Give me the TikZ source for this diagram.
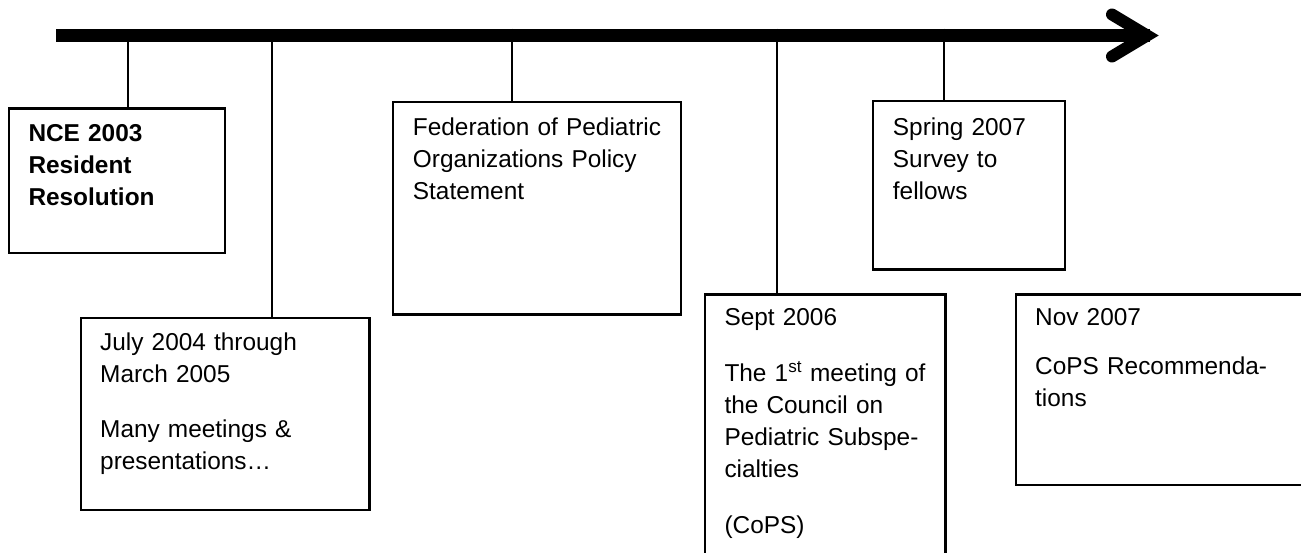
\documentclass[tikz,border=0pt]{standalone}
\usepackage{fontspec}
\setmainfont{Liberation Sans}
\begin{document}
\begin{tikzpicture}[x=1pt,y=-1pt,
  box/.style={draw=black, line width=2.2pt, anchor=north west, inner sep=0pt, fill=none},
  tick/.style={draw=black, line width=2pt},
  axis/.style={draw=black, line width=12.4pt},
  chev/.style={draw=black, line width=12pt, line cap=round, line join=miter},
  txt/.style={anchor=base west, align=left, text width=330pt, inner sep=0pt,
    font=\fontsize{24.4}{32}\selectfont}]
\useasboundingbox (0,0) rectangle (1301,552);
\clip (0,0) rectangle (1301,552);
% timeline
\coordinate (start) at (56,35.5);
\coordinate (stop) at (1150,35.5);
\coordinate (w1) at (1112,14.5);
\coordinate (tip) at (1147,35.5);
\coordinate (w2) at (1112,56.5);
\draw[axis] (start) -- (stop);
\draw[chev] (w1) -- (tip) -- (w2);
% boxes
\node[box, minimum width=216pt, minimum height=144.4pt] (b1) at (8,107.3) {};
\node[box, minimum width=288.3pt, minimum height=192.3pt] (b2) at (80,316.7) {};
\node[box, minimum width=288pt, minimum height=212.6pt] (b3) at (392,100.7) {};
\node[box, minimum width=240.3pt, minimum height=280pt] (b4) at (704,293.3) {};
\node[box, minimum width=192.3pt, minimum height=168.3pt] (b5) at (871.7,100) {};
\node[box, minimum width=320pt, minimum height=190.7pt] (b6) at (1015,293.3) {};
% ticks
\coordinate (t1) at (128,41);
\coordinate (t2) at (272,41);
\coordinate (t3) at (512,28.5);
\coordinate (t4) at (776.7,28.5);
\coordinate (t5) at (944,28.5);
\draw[tick] (t1) -- (t1 |- b1.north);
\draw[tick] (t2) -- (t2 |- b2.north);
\draw[tick] (t3) -- (t3 |- b3.north);
\draw[tick] (t4) -- (t4 |- b4.north);
\draw[tick] (t5) -- (t5 |- b5.north);
% texts
\node[txt] (x1) at (28.3,141.7) {\bfseries NCE 2003\\Resident\\Resolution};
\node[txt] (x2) at (100,350) {July 2004 through\\March 2005\\[23.5pt]Many meetings \&\\presentations…};
\node[txt] (x3) at (412.7,135) {Federation of Pediatric\\Organizations Policy\\Statement};
\node[txt] (x4) at (724.3,325.7) {Sept 2006\\[24pt]The 1\textsuperscript{st} meeting of\\the Council on\\Pediatric Subspe-\\cialties\\[24pt](CoPS)};
\node[txt] (x5) at (892.7,135) {Spring 2007\\Survey to\\fellows};
\node[txt] (x6) at (1035,325) {Nov 2007\\[17pt]CoPS Recommenda-\\tions};
\end{tikzpicture}
\end{document}
